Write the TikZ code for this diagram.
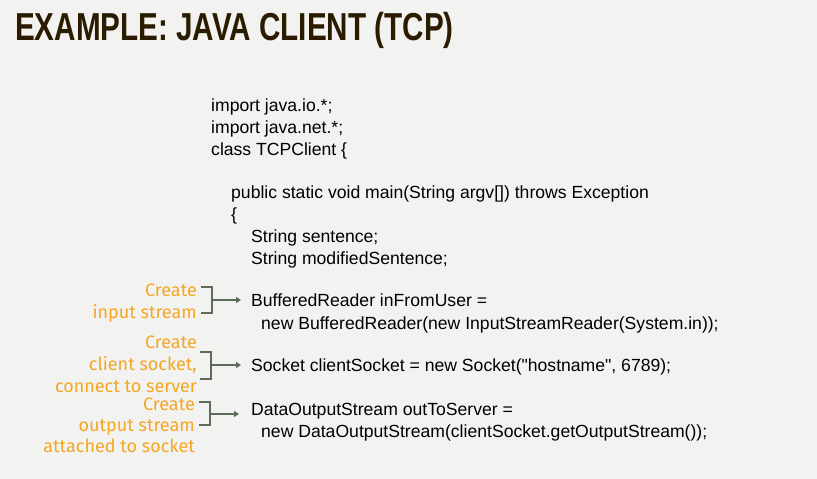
\documentclass[tikz,border=0pt]{standalone}
\usepackage{fontspec}
\defaultfontfeatures[\rmfamily]{}
\setmainfont{Liberation Sans}
\newfontfamily\notefont{Fira Sans}
\usetikzlibrary{arrows.meta}
\definecolor{bg}{HTML}{F2F2F0}
\definecolor{ttl}{HTML}{2B1B00}
\definecolor{note}{HTML}{F5A623}
\definecolor{brk}{HTML}{5E6B58}
\begin{document}
\begin{tikzpicture}[x=1pt,y=-1pt,
  code/.style={anchor=base west,inner sep=0,font=\fontsize{17.6}{20}\selectfont},
  ann/.style={anchor=base east,inner sep=0,text=note,font=\notefont\fontsize{18}{20}\selectfont},
  brace/.style={draw=brk,line width=1.6pt},
  arr/.style={draw=brk,line width=1.6pt,-{Triangle[length=5pt,width=6pt]}}]
\fill[bg] (0,0) rectangle (817,479);
\useasboundingbox (0,0) rectangle (817,479);
\node[anchor=base west,inner sep=0,text=ttl,font=\bfseries\fontsize{39}{39}\selectfont,xscale=0.76] (title) at (15,40) {EXAMPLE: JAVA CLIENT (TCP)};
\node[code] (l1) at (211,111) {import java.io.*;};
\node[code] (l2) at (211,133) {import java.net.*;};
\node[code] (l3) at (211,155) {class TCPClient \{};
\node[code] (l4) at (231,198) {public static void main(String argv[]) throws Exception};
\node[code] (l5) at (231,220) {\{};
\node[code] (l6) at (251,242) {String sentence;};
\node[code] (l7) at (251,264) {String modifiedSentence;};
\node[code] (c1) at (251,306) {BufferedReader inFromUser =};
\node[code] (c1b) at (261,329) {new BufferedReader(new InputStreamReader(System.in));};
\node[code] (c2) at (251,371) {Socket clientSocket = new Socket("hostname", 6789);};
\node[code] (c3) at (251,415) {DataOutputStream outToServer =};
\node[code] (c3b) at (261,437) {new DataOutputStream(clientSocket.getOutputStream());};
\node[ann] (a1) at (197,296) {Create};
\node[ann] (a1b) at (197,318) {input stream};
\node[ann] (a2) at (197,348) {Create};
\node[ann] (a2b) at (197,370) {client socket,};
\node[ann] (a2c) at (197,392) {connect to server};
\node[ann] (a3) at (195,410) {Create};
\node[ann] (a3b) at (195,431) {output stream};
\node[ann] (a3c) at (195,452) {attached to socket};
\coordinate (b1) at (212,300);
\coordinate (b2) at (211,365);
\coordinate (b3) at (210,414);
\draw[brace] (201,287) -| (b1 |- 0,313) -- (201,313);
\draw[brace] (200,352) -| (b2 |- 0,379) -- (200,379);
\draw[brace] (199,402) -| (b3 |- 0,425) -- (199,425);
\draw[arr] (b1) -- ([xshift=-10pt]c1.west |- b1);
\draw[arr] (b2) -- ([xshift=-10pt]c2.west |- b2);
\draw[arr] (b3) -- ([xshift=-12pt]c3.west |- b3);
\end{tikzpicture}
\end{document}
